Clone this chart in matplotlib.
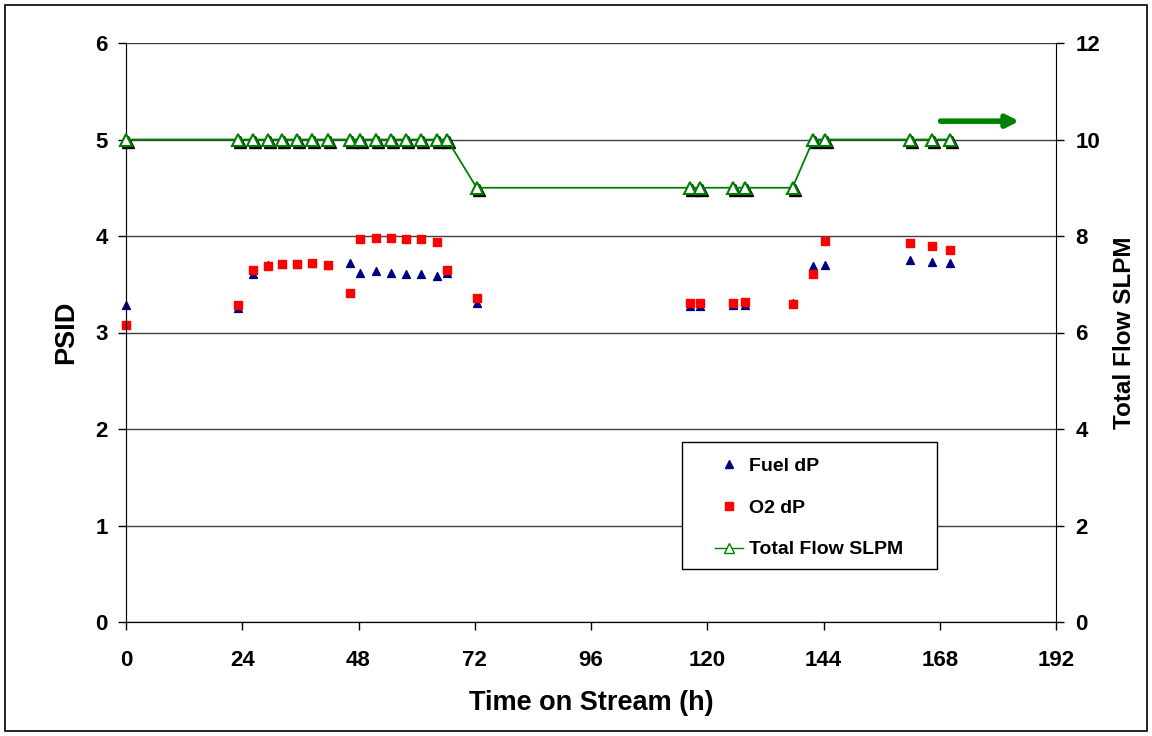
import matplotlib.pyplot as plt
import matplotlib.patches as patches
from matplotlib.transforms import offset_copy
from matplotlib.lines import Line2D

plt.rcParams['font.family'] = ['Liberation Sans', 'DejaVu Sans']
plt.rcParams['font.weight'] = 'bold'

# time on stream (h) for each sample
hours = [0, 23.2, 26.3, 29.4, 32.3, 35.4, 38.3, 41.6, 46.2, 48.4, 51.7, 54.8,
         57.8, 60.8, 64.3, 66.3, 72.4, 116.4, 118.6, 125.4, 127.8, 137.6,
         141.9, 144.4, 161.9, 166.3, 170.1]
fuel_dp = [3.28, 3.25, 3.61, 3.70, 3.71, 3.71, 3.72, 3.70, 3.72, 3.62, 3.64, 3.62,
           3.61, 3.61, 3.59, 3.62, 3.31, 3.27, 3.27, 3.28, 3.29, 3.31,
           3.69, 3.70, 3.75, 3.73, 3.72]
o2_dp = [3.08, 3.29, 3.65, 3.69, 3.71, 3.71, 3.72, 3.70, 3.41, 3.97, 3.98, 3.98,
         3.97, 3.97, 3.94, 3.65, 3.36, 3.31, 3.31, 3.31, 3.32, 3.30,
         3.61, 3.95, 3.93, 3.90, 3.86]
total_flow = [10, 10, 10, 10, 10, 10, 10, 10, 10, 10, 10, 10,
              10, 10, 10, 10, 9, 9, 9, 9, 9, 9,
              10, 10, 10, 10, 10]
legend_labels = ['Fuel dP', 'O2 dP', 'Total Flow SLPM']

W, H = 1152, 736
fig = plt.figure(figsize=(W / 100, H / 100), dpi=100)
ax = fig.add_axes([126 / W, 1 - 622 / H, 930 / W, 579 / H])
ax2 = ax.twinx()

# outer chart border
fig.patches.append(patches.Rectangle((5 / W, 5 / H), 1142 / W, 726 / H,
                                     transform=fig.transFigure, fill=False,
                                     edgecolor='black', linewidth=1.2))

ax.set_xlim(0, 192)
ax.set_ylim(0, 6)
ax2.set_ylim(0, 12)
ax.set_xticks(range(0, 193, 24))
ax.set_yticks(range(0, 7))
ax2.set_yticks(range(0, 13, 2))
ax.grid(axis='y', color='#404040', linewidth=1)
ax.set_axisbelow(True)

for a in (ax, ax2):
    a.spines['top'].set_visible(False)
    a.tick_params(labelsize=16, length=6, width=1, direction='out')
ax.spines['right'].set_visible(False)
ax.spines['left'].set_color('#606060')
ax.tick_params(axis='x', pad=14)
ax.tick_params(axis='y', pad=7)
ax2.tick_params(axis='y', pad=8)

ax.scatter(hours, fuel_dp, marker='^', s=32, color='#000080', zorder=3, clip_on=False)
ax.scatter(hours, o2_dp, marker='s', s=36, color='#ff0000', zorder=3, clip_on=False)

# flow line with shadowed hollow triangles
shadow = offset_copy(ax2.transData, fig=fig, x=2, y=-2, units='dots')
ax2.plot(hours, total_flow, linestyle='none', marker='^', markersize=8,
         color='black', transform=shadow, zorder=2, clip_on=False)
ax2.plot(hours, total_flow, color='#008000', linewidth=1.3, marker='^',
         markersize=8, markerfacecolor='white', markeredgecolor='#008000',
         markeredgewidth=1.5, zorder=3, clip_on=False)

ax2.annotate('', xy=(185, 10.38), xytext=(167.6, 10.38),
             arrowprops=dict(arrowstyle='-|>', color='#008000', lw=4,
                             mutation_scale=18))

ax.set_xlabel('Time on Stream (h)', fontsize=19.5, fontweight='bold', va='center')
ax.xaxis.set_label_coords(0.5, -0.14)
ax.set_ylabel('PSID', fontsize=19.5, fontweight='bold', va='center')
ax.yaxis.set_label_coords(-0.0645, 0.5)
ax2.set_ylabel('Total Flow SLPM', fontsize=17.5, fontweight='bold', va='center')
ax2.yaxis.set_label_coords(1.074, 0.5)

# legend: box drawn separately, entries placed inside it
fig.patches.append(patches.Rectangle((682 / W, 1 - 569 / H), 255 / W, 127 / H,
                                     transform=fig.transFigure, facecolor='white',
                                     edgecolor='black', linewidth=1, zorder=4))
handles = [
    Line2D([], [], linestyle='none', marker='^', color='#000080', markersize=6),
    Line2D([], [], linestyle='none', marker='s', color='#ff0000', markersize=6),
    Line2D([], [], color='#008000', linewidth=1, marker='^', markersize=7,
           markerfacecolor='white', markeredgecolor='#008000'),
]
leg = fig.legend(handles, legend_labels, loc='upper left',
                 bbox_to_anchor=(715 / W, 1 - 457 / H), frameon=False,
                 fontsize=14, labelspacing=1.25, handlelength=1.45,
                 handletextpad=0.3, borderpad=0, borderaxespad=0)
leg.set_zorder(5)

fig.savefig('out.png', dpi=100)
